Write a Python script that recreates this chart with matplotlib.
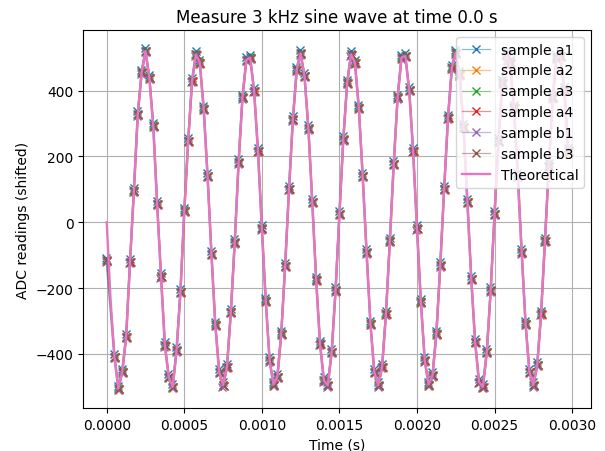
import numpy as np
import matplotlib
matplotlib.use('Agg')
import matplotlib.pyplot as plt
from matplotlib.colors import to_rgba

# время отсчётов: АЦП 40 кГц, шаг 25 мкс, 120 отсчётов
fs = 40000
n_points = 120
t = np.arange(n_points) / fs

# теоретическая синусоида в моменты отсчётов
theory_v = [0, -238, -409, -505, -454, -348, -121, 96, 328, 455,
            520, 439, 293, 55, -164, -374, -470, -500, -389, -212,
            35, 247, 429, 510, 485, 345, 141, -96, -311, -455,
            -495, -440, -273, -61, 182, 379, 493, 500, 399, 217,
            -18, -238, -419, -493, -470, -338, -133, 101, 313, 464,
            513, 444, 285, 62, -174, -369, -480, -495, -394, -207,
            25, 252, 424, 510, 485, 348, 141, -91, -308, -455,
            -495, -440, -278, -56, 177, 379, 500, 505, 402, 217,
            -18, -241, -419, -493, -465, -338, -131, 101, 318, 470,
            515, 449, 289, 62, -172, -364, -485, -500, -394, -207,
            25, 247, 424, 510, 485, 348, 141, -91, -308, -455,
            -495, -434, -278, -56, 171, 379, 500, 505, 402, 217]

# первый отсчёт АЦП (t = 0), второго отсчёта на графике нет
first_reading = -116

# названия выборок и их небольшой сдвиг (по значению и по времени, мкс)
sample_names = ['sample a1', 'sample a2', 'sample a3', 'sample a4', 'sample b1', 'sample b3']
sample_shift = [9, -3, 1, -1, -4, 0]
sample_dt_us = [-2, 3, -3, 4, -4, 2]

sample_t = np.concatenate([t[:1], t[2:]])
base_v = np.array([first_reading] + theory_v[2:], dtype=float)

fig = plt.figure(figsize=(6.05, 4.52), dpi=100)
ax = fig.add_subplot(111)
fig.subplots_adjust(left=0.1377, right=0.9769, top=0.9314, bottom=0.0945)

colors = plt.rcParams['axes.prop_cycle'].by_key()['color']
for i, name in enumerate(sample_names):
    c = colors[i]
    ax.plot(sample_t + sample_dt_us[i] * 1e-6, base_v + sample_shift[i], marker='x',
            color=to_rgba(c, 0.5), markeredgecolor=c, markerfacecolor=c,
            linewidth=0.9, label=name)

ax.plot(t, theory_v, color=colors[6], linewidth=1.7, label='Theoretical')

ax.set_xlim(-1.51e-4, 3.122e-3)
ax.set_ylim(-565, 584)
ax.set_title('Measure 3 kHz sine wave at time 0.0 s')
ax.set_xlabel('Time (s)')
ax.set_ylabel('ADC readings (shifted)')
ax.grid(True)
ax.legend(loc='upper right')

plt.savefig('out.png', dpi=100)
